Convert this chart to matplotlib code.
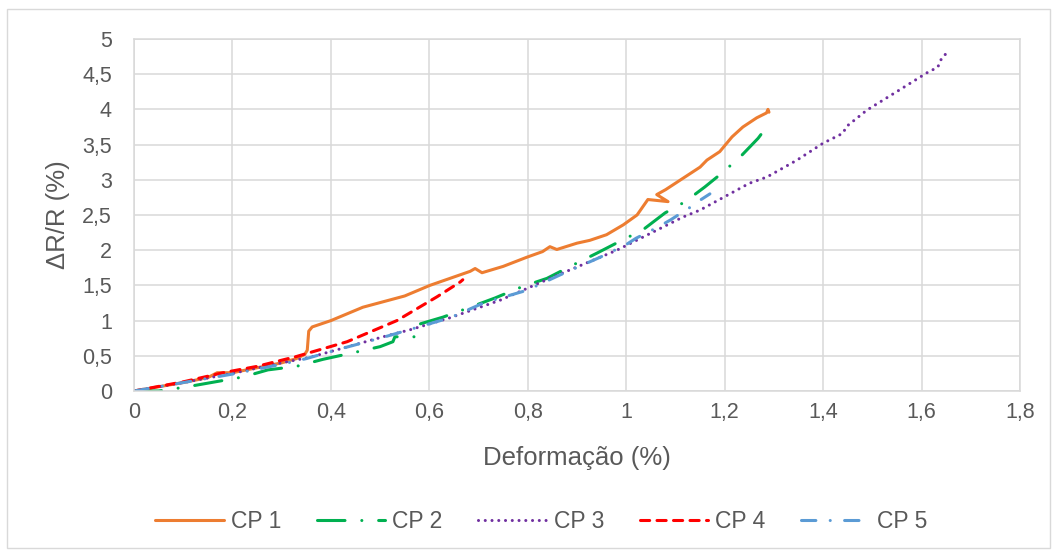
import matplotlib
matplotlib.use("Agg")
import matplotlib.pyplot as plt
from matplotlib.patches import Rectangle

plt.rcParams["font.family"] = ["Liberation Sans", "DejaVu Sans"]

# Strain (%) and relative resistance change (%) for each specimen
cp1_x = [0.0, 0.05, 0.10, 0.15, 0.169, 0.20, 0.25, 0.30, 0.33, 0.347, 0.352, 0.355, 0.362,
         0.40, 0.465, 0.55, 0.601, 0.642, 0.683, 0.693, 0.707, 0.75, 0.798, 0.83, 0.845,
         0.859, 0.90, 0.926, 0.96, 0.994, 1.022, 1.044, 1.085, 1.062, 1.08, 1.115, 1.15,
         1.164, 1.19, 1.215, 1.237, 1.265, 1.285, 1.288, 1.29]
cp1_y = [0.0, 0.06, 0.12, 0.19, 0.26, 0.26, 0.33, 0.40, 0.46, 0.52, 0.58, 0.85, 0.91,
         1.00, 1.19, 1.35, 1.50, 1.60, 1.70, 1.74, 1.68, 1.77, 1.90, 1.98, 2.05,
         2.01, 2.10, 2.14, 2.22, 2.36, 2.50, 2.72, 2.69, 2.79, 2.86, 3.02, 3.18,
         3.28, 3.40, 3.61, 3.75, 3.88, 3.95, 4.00, 3.96]

cp2_x = [0.0, 0.05, 0.08, 0.108, 0.165, 0.222, 0.272, 0.33, 0.384, 0.443, 0.50, 0.526,
         0.53, 0.571, 0.575, 0.628, 0.683, 0.733, 0.788, 0.839, 0.892, 0.941, 0.991,
         1.034, 1.079, 1.12, 1.16, 1.197, 1.235, 1.268, 1.282]
cp2_y = [0.0, 0.0, 0.03, 0.06, 0.13, 0.20, 0.30, 0.35, 0.45, 0.54, 0.63, 0.70,
         0.77, 0.77, 0.94, 1.05, 1.19, 1.32, 1.48, 1.60, 1.79, 1.96, 2.14,
         2.29, 2.53, 2.69, 2.90, 3.11, 3.35, 3.59, 3.72]

cp3_x = [0.0, 0.10, 0.20, 0.30, 0.358, 0.42, 0.506, 0.561, 0.642, 0.744, 0.845, 0.981,
         1.115, 1.15, 1.25, 1.286, 1.347, 1.40, 1.44, 1.448, 1.489, 1.556, 1.611, 1.633,
         1.641, 1.651]
cp3_y = [0.0, 0.12, 0.25, 0.40, 0.48, 0.60, 0.77, 0.87, 1.04, 1.29, 1.60, 2.00,
         2.47, 2.57, 2.95, 3.04, 3.28, 3.52, 3.66, 3.76, 3.99, 4.28, 4.52, 4.60,
         4.73, 4.80]

cp4_x = [0.0, 0.10, 0.181, 0.25, 0.33, 0.433, 0.534, 0.616, 0.663, 0.668]
cp4_y = [0.0, 0.13, 0.26, 0.35, 0.49, 0.70, 1.00, 1.34, 1.55, 1.58]

cp5_x = [0.0, 0.10, 0.20, 0.30, 0.35, 0.42, 0.50, 0.642, 0.71, 0.798, 0.866, 0.947,
         1.00, 1.02, 1.065, 1.09, 1.13, 1.15, 1.17]
cp5_y = [0.0, 0.12, 0.24, 0.38, 0.46, 0.60, 0.75, 1.04, 1.25, 1.43, 1.65, 1.90,
         2.08, 2.17, 2.33, 2.43, 2.61, 2.71, 2.80]

labels = ["CP 1", "CP 2", "CP 3", "CP 4", "CP 5"]
x_ticks = [0, 0.2, 0.4, 0.6, 0.8, 1.0, 1.2, 1.4, 1.6, 1.8]
y_ticks = [0, 0.5, 1, 1.5, 2, 2.5, 3, 3.5, 4, 4.5, 5]


def fmt(v):
    # decimal comma
    return ("%g" % v).replace(".", ",")


fig = plt.figure(figsize=(10.59, 5.55), dpi=100)
fig.patches.append(Rectangle((7 / 1059, 7 / 555), 1043 / 1059, 539 / 555,
                             transform=fig.transFigure, fill=False,
                             edgecolor="#d9d9d9", linewidth=1.0))
ax = fig.add_axes([134 / 1059, 1 - 391 / 555, 886 / 1059, 352 / 555])

lw = 2.2
series = [
    (cp1_x, cp1_y, "#ED7D31", None),
    (cp2_x, cp2_y, "#00B050", (0, (9, 5.5, 0.01, 5.5))),
    (cp3_x, cp3_y, "#7030A0", (0, (0.01, 2.2))),
    (cp4_x, cp4_y, "#FF0000", (0, (3.0, 2.4))),
    (cp5_x, cp5_y, "#5B9BD5", (0, (4.7, 4.7, 0.01, 4.7))),
]
for (xs, ys, color, ls), lab in zip(series, labels):
    kw = dict(color=color, linewidth=lw, label=lab, solid_capstyle="round",
              dash_capstyle="round", solid_joinstyle="round")
    if ls is not None:
        kw["linestyle"] = ls
    ax.plot(xs, ys, **kw)

ax.set_xlim(0, 1.8)
ax.set_ylim(0, 5)
ax.set_xticks(x_ticks)
ax.set_yticks(y_ticks)
ax.set_xticklabels([fmt(v) for v in x_ticks])
ax.set_yticklabels([fmt(v) for v in y_ticks])
ax.grid(True, color="#d9d9d9", linewidth=1.1)
ax.set_axisbelow(True)
for sp in ax.spines.values():
    sp.set_color("#d9d9d9")
    sp.set_linewidth(1.1)
ax.tick_params(axis="both", length=0, labelsize=15.5, colors="#595959")
ax.tick_params(axis="y", pad=16)
ax.tick_params(axis="x", pad=8)

fig.text(577 / 1059, 1 - 458 / 555, "Deformação (%)", ha="center", va="center",
         fontsize=18.5, color="#595959")
fig.text(58 / 1059, 1 - 215 / 555, "ΔR/R (%)", ha="center", va="center",
         rotation=90, fontsize=18.5, color="#595959")

leg = fig.legend(loc="center", bbox_to_anchor=(541 / 1059, 1 - 522 / 555), ncol=5,
                 frameon=False, fontsize=16.5, handlelength=3.0, handletextpad=0.3,
                 columnspacing=1.55, labelcolor="#595959")

fig.savefig("out.png", dpi=100)
